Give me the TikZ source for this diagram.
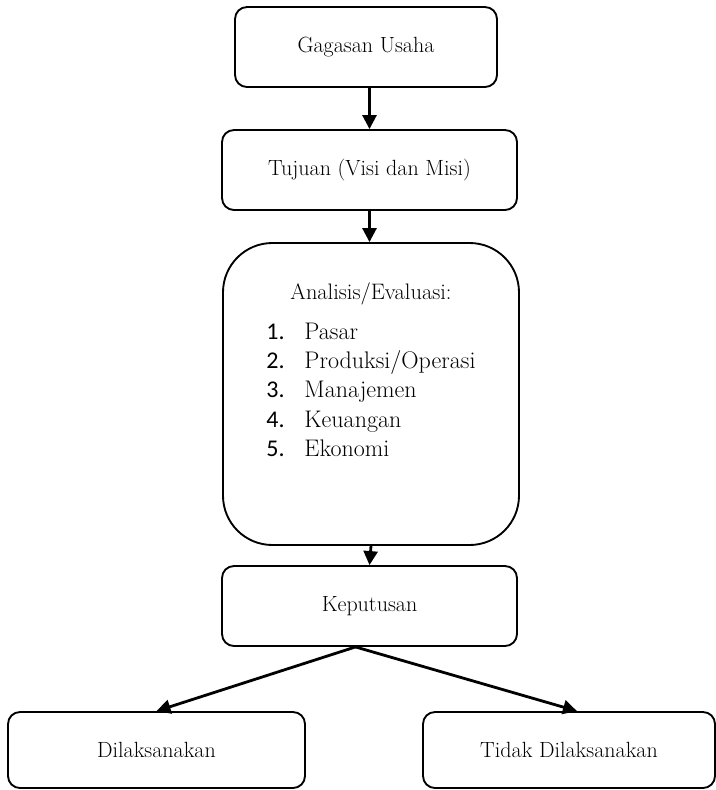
\documentclass[tikz,border=0pt]{standalone}
\usepackage{fontspec}
\usetikzlibrary{arrows.meta}
\newfontfamily\numfont{Carlito}

\begin{document}
\begin{tikzpicture}[x=0.75pt, y=-0.75pt, ->, >={Triangle[length=10.5pt,width=10.5pt]}, line width=2.1pt,
    flowbox/.style={draw, rounded corners=9pt, line width=1.4pt, inner sep=0pt, align=center, font=\fontsize{16.5}{19}\selectfont}]
    \useasboundingbox (0,0) rectangle (716,790);

    % Nodes
    \node[flowbox, minimum width=196.5pt, minimum height=60pt] (gagasan) at (366,47) {Gagasan Usaha};
    \node[flowbox, minimum width=221.25pt, minimum height=60pt] (tujuan) at (369.5,170) {Tujuan (Visi dan Misi)};
    \node[flowbox, rounded corners=37pt, align=left, minimum width=222pt, minimum height=226.5pt] (analisis) at (371,394)
        {\parbox[c][226.5pt][t]{222pt}{\centering\vspace*{29.5pt}\fontsize{16.8}{19}\selectfont Analisis/Evaluasi:\par\vspace{8pt}%
        \fontsize{18}{22}\selectfont
        \begin{tabular}[t]{@{}l@{}}
            \makebox[28.5pt][l]{\numfont 1.}Pasar\\
            \makebox[28.5pt][l]{\numfont 2.}Produksi/Operasi\\
            \makebox[28.5pt][l]{\numfont 3.}Manajemen\\
            \makebox[28.5pt][l]{\numfont 4.}Keuangan\\
            \makebox[28.5pt][l]{\numfont 5.}Ekonomi
        \end{tabular}}};
    \node[flowbox, minimum width=221.25pt, minimum height=60pt] (keputusan) at (369.5,606) {Keputusan};
    \node[flowbox, minimum width=222.75pt, minimum height=57pt] (dilaksanakan) at (156.5,750) {Dilaksanakan};
    \node[flowbox, minimum width=219pt, minimum height=57pt] (tidak) at (569,750) {Tidak Dilaksanakan};

    % Arrows
    \draw (tujuan.north |- gagasan.south) -- (tujuan.north);
    \draw (tujuan.south) -- (tujuan.south |- analisis.north);
    \draw (analisis.south) -- (keputusan.north);
    \draw ([xshift=-10.5pt]keputusan.south) -- (dilaksanakan.north);
    \draw ([xshift=-10.5pt]keputusan.south) -- ([xshift=6pt]tidak.north);

\end{tikzpicture}
\end{document}
